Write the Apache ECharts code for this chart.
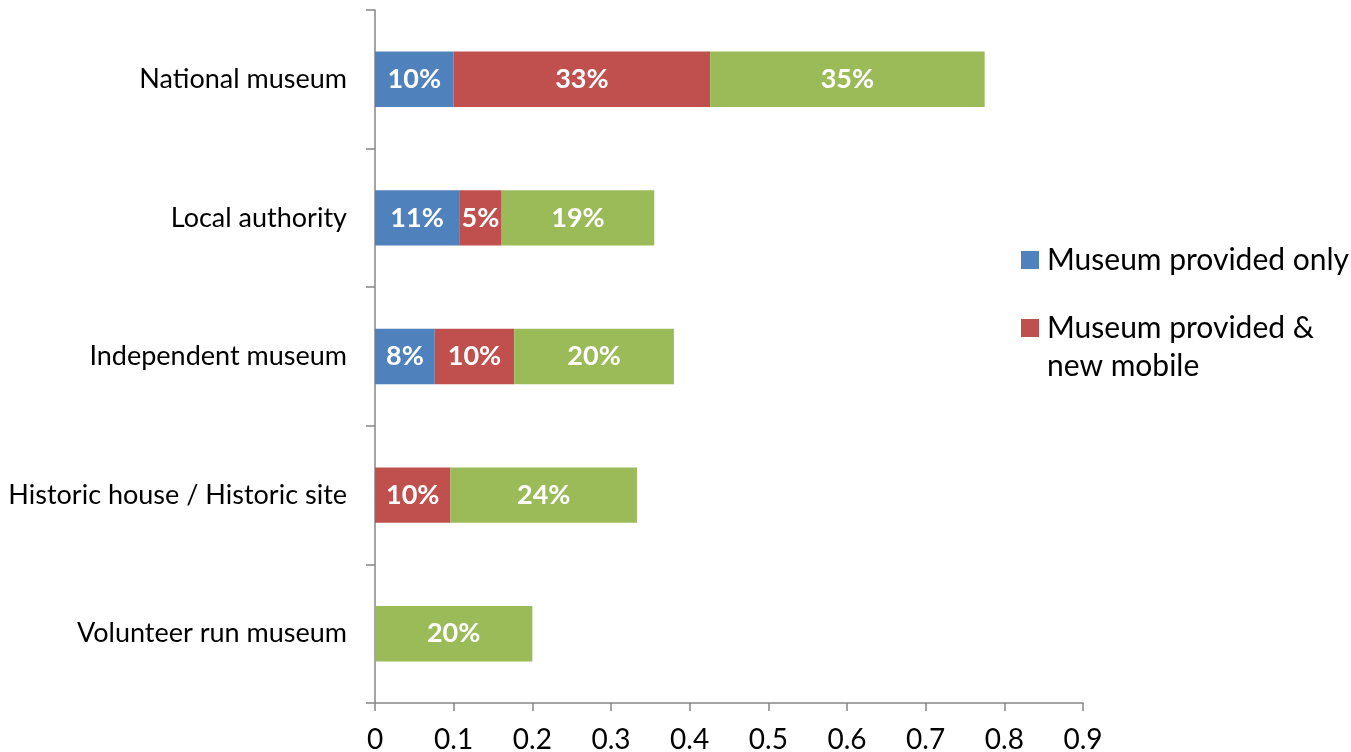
<!DOCTYPE html>
<html>
<head>
<meta charset="utf-8">
<script src="https://cdn.jsdelivr.net/npm/echarts@6/dist/echarts.min.js"></script>
<style>
  html, body { margin: 0; padding: 0; background: #ffffff; }
  #chart { width: 1351px; height: 752px; }
</style>
</head>
<body>
<div id="chart"></div>
<script>
// Museum types, top to bottom
const categories = [
  'National museum',
  'Local authority',
  'Independent museum',
  'Historic house / Historic site',
  'Volunteer run museum'
];

// Share of museums per group (fractions of 1)
const providedOnly   = [0.100, 0.107, 0.076, null, null];
const providedMobile = [0.326, 0.054, 0.101, 0.096, null];
const thirdGroup     = [0.349, 0.194, 0.203, 0.237, 0.200];

const xTicks = [0, 0.1, 0.2, 0.3, 0.4, 0.5, 0.6, 0.7, 0.8, 0.9];

const seriesNames = ['Museum provided only', 'Museum provided & new mobile', 'Series 3'];
const colors = ['#4F81BD', '#C0504D', '#9BBB59'];

const FONT = 'Lato';
const axisGray = '#868686';

const pctLabel = {
  show: true,
  position: 'inside',
  color: '#ffffff',
  fontFamily: FONT,
  fontWeight: 'bold',
  fontSize: 27,
  formatter: p => (p.value ? Math.round(p.value * 100) + '%' : '')
};

function barSeries(name, data, color) {
  return {
    name: name,
    type: 'bar',
    stack: 'total',
    barWidth: '40%',
    data: data,
    itemStyle: { color: color },
    label: pctLabel,
    emphasis: { disabled: true }
  };
}

const chart = echarts.init(document.getElementById('chart'), null, { renderer: 'canvas' });

chart.setOption({
  animation: false,
  backgroundColor: '#ffffff',
  grid: {
    left: 375, right: 268, top: 10, bottom: 49,
    containLabel: false,
    outerBoundsMode: 'none'
  },
  xAxis: {
    type: 'value',
    min: 0,
    max: 0.9,
    interval: 0.1,
    axisLine: { show: true, lineStyle: { color: axisGray, width: 1.5 } },
    axisTick: { show: true, length: 8, lineStyle: { color: axisGray, width: 1.5 } },
    splitLine: { show: false },
    axisLabel: {
      color: '#000000',
      fontFamily: FONT,
      fontSize: 28,
      margin: 23,
      formatter: v => {
        const t = xTicks.find(x => Math.abs(x - v) < 1e-9);
        return t === undefined ? '' : String(t);
      }
    }
  },
  yAxis: {
    type: 'category',
    inverse: true,
    data: categories,
    axisLine: { show: true, lineStyle: { color: axisGray, width: 1.5 } },
    axisTick: { show: true, length: 9, lineStyle: { color: axisGray, width: 1.5 } },
    axisLabel: {
      color: '#000000',
      fontFamily: FONT,
      fontSize: 27,
      margin: 28
    }
  },
  legend: [
    {
      data: [seriesNames[0]],
      left: 1021,
      top: 245,
      padding: 0,
      itemWidth: 18,
      itemHeight: 18,
      itemGap: 0,
      icon: 'rect',
      selectedMode: false,
      textStyle: { color: '#000000', fontFamily: FONT, fontSize: 30, padding: [0, 0, 0, 3] }
    },
    {
      data: [seriesNames[1]],
      left: 1021,
      top: 271,
      padding: 0,
      itemWidth: 18,
      itemHeight: 18,
      itemGap: 0,
      icon: 'rect',
      selectedMode: false,
      // leading blank line keeps the swatch level with the first text line
      formatter: () => '\nMuseum provided &\nnew mobile',
      textStyle: { color: '#000000', fontFamily: FONT, fontSize: 30, lineHeight: 38, padding: [0, 0, 0, 3] }
    }
  ],
  series: [
    barSeries(seriesNames[0], providedOnly, colors[0]),
    barSeries(seriesNames[1], providedMobile, colors[1]),
    barSeries(seriesNames[2], thirdGroup, colors[2])
  ]
});
</script>
</body>
</html>
